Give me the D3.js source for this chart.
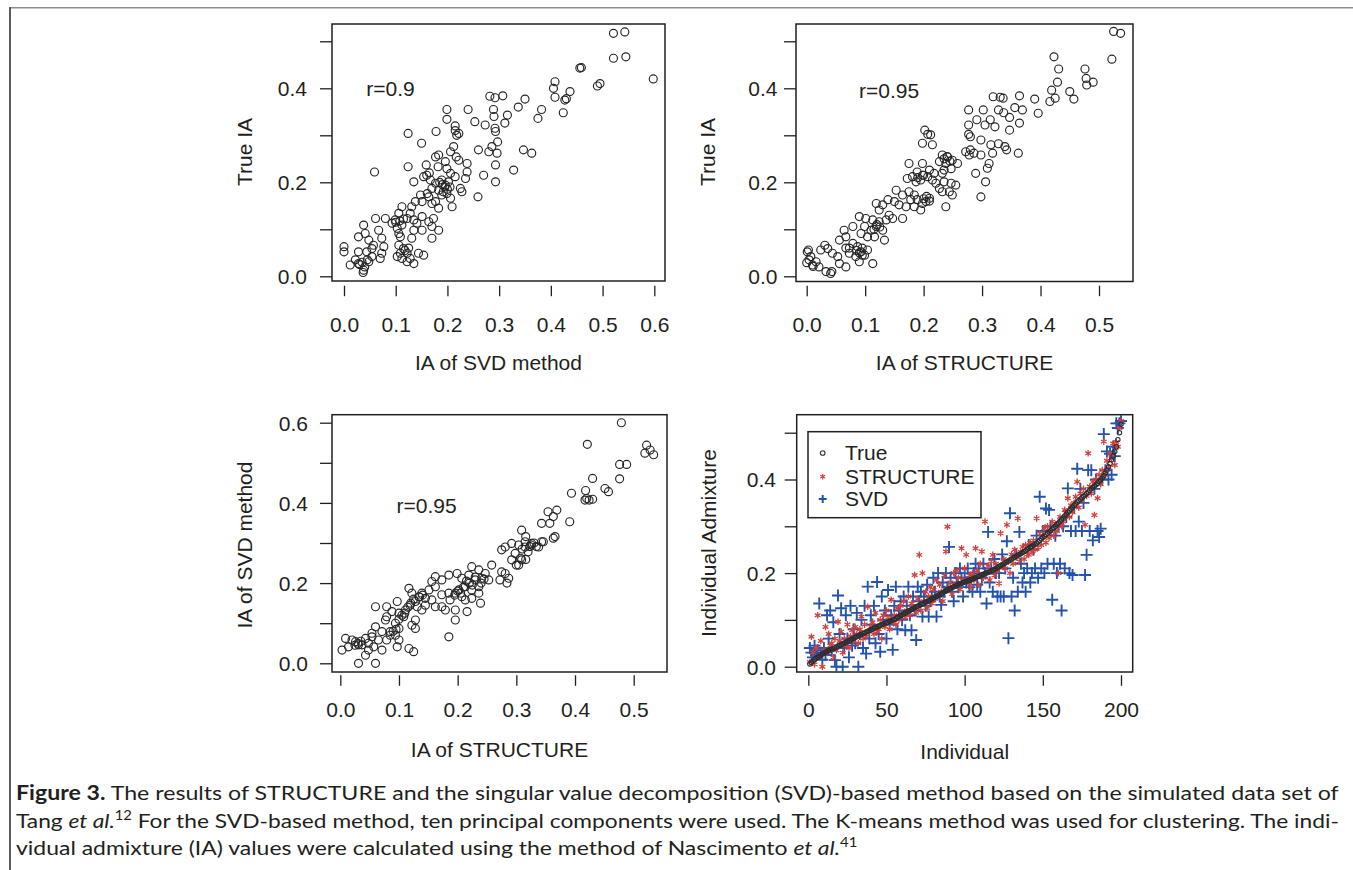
<!DOCTYPE html>
<html><head><meta charset="utf-8">
<script src="https://cdn.jsdelivr.net/npm/d3@7"></script>
<style>html,body{margin:0;padding:0;background:#fff;}svg{display:block;}</style>
</head><body>
<svg id="chart" width="1353" height="870"></svg>
<script>
// ---------------- DATA ----------------
// Panel A: x = IA of SVD method, y = True IA
const svdVsTrue = [
[0.521,0.517],[0.543,0.520],[0.521,0.464],[0.545,0.467],[0.598,0.420],[0.456,0.443],[0.459,0.444],[0.495,0.410],[0.490,0.405],[0.408,0.414],[0.405,0.400],[0.408,0.381],[0.427,0.375],[0.430,0.378],[0.437,0.393],[0.424,0.348],[0.382,0.355],[0.375,0.336],[0.350,0.377],[0.337,0.360],[0.316,0.343],[0.311,0.326],[0.307,0.384],[0.292,0.380],[0.282,0.383],[0.289,0.355],[0.290,0.340],[0.292,0.315],[0.273,0.322],[0.253,0.329],[0.240,0.355],[0.199,0.355],[0.199,0.334],[0.215,0.320],[0.347,0.269],[0.363,0.262],
[0.124,0.304],[0.178,0.308],[0.222,0.304],[0.218,0.300],[0.215,0.310],[0.293,0.308],[0.297,0.286],[0.150,0.283],[0.212,0.276],[0.206,0.265],[0.183,0.258],[0.177,0.254],[0.217,0.254],[0.196,0.244],[0.222,0.247],[0.238,0.240],[0.260,0.269],[0.280,0.265],[0.286,0.276],[0.296,0.262],[0.293,0.237],[0.328,0.226],
[0.059,0.222],[0.124,0.233],[0.159,0.237],[0.182,0.233],[0.199,0.229],[0.206,0.219],[0.215,0.212],[0.235,0.208],[0.238,0.222],[0.270,0.215],[0.293,0.201],[0.259,0.169],
[0.135,0.201],[0.154,0.212],[0.167,0.205],[0.177,0.198],[0.189,0.205],[0.196,0.194],[0.202,0.201],[0.183,0.183],[0.170,0.187],[0.161,0.176],[0.148,0.173],[0.164,0.169],[0.189,0.173],[0.199,0.176],[0.206,0.166],[0.209,0.148],[0.225,0.187],[0.228,0.180],[0.177,0.159],[0.170,0.155],[0.183,0.145],[0.151,0.159],[0.138,0.159],[0.131,0.148],[0.128,0.134],[0.112,0.148],[0.106,0.134],[0.122,0.123],[0.135,0.120],[0.141,0.113],[0.151,0.127],[0.173,0.123],[0.164,0.116],[0.170,0.106],[0.183,0.098],[0.170,0.081],[0.151,0.098],[0.135,0.098],[0.131,0.081],
[0.061,0.123],[0.080,0.123],[0.099,0.120],[0.093,0.113],[0.103,0.102],[0.112,0.109],[0.106,0.091],[0.109,0.084],
[0.038,0.109],[0.028,0.084],[0.041,0.091],[0.048,0.077],[0.067,0.098],[0.073,0.081],[0.077,0.063],[0.057,0.066],[0.054,0.059],[0.044,0.052],[0.028,0.052],[0.000,0.063],[0.000,0.052],[0.012,0.024],[0.022,0.035],[0.028,0.027],[0.038,0.013],[0.048,0.031],[0.054,0.042],[0.070,0.038],[0.073,0.049],
[0.106,0.066],[0.109,0.049],[0.115,0.059],[0.122,0.049],[0.128,0.038],[0.135,0.027],[0.144,0.049],[0.154,0.045],[0.103,0.042],[0.112,0.038],[0.122,0.031],
[0.190,0.195],[0.195,0.190],[0.200,0.185],[0.185,0.200],[0.192,0.180],[0.205,0.190],[0.108,0.118],[0.115,0.122],[0.100,0.115],[0.030,0.025],[0.035,0.030],[0.040,0.020],[0.045,0.035],[0.160,0.215],[0.165,0.220],[0.118,0.055],[0.125,0.060],[0.037,0.008]
];

// Panel B: x = IA of STRUCTURE, y = True IA
const structVsTrue = [
[0.525,0.521],[0.537,0.517],[0.522,0.462],[0.423,0.467],[0.431,0.441],[0.429,0.413],[0.419,0.396],[0.416,0.372],[0.425,0.379],[0.476,0.441],[0.478,0.421],[0.479,0.407],[0.490,0.413],[0.450,0.393],[0.457,0.377],[0.390,0.377],[0.396,0.347],[0.364,0.384],[0.356,0.359],[0.369,0.354],[0.364,0.326],[0.362,0.262],[0.347,0.338],[0.337,0.348],[0.347,0.311],[0.319,0.382],[0.331,0.381],[0.336,0.379],[0.328,0.354],[0.322,0.318],[0.314,0.333],[0.305,0.322],[0.302,0.354],[0.291,0.333],[0.277,0.354],[0.277,0.322],[0.328,0.282],[0.339,0.276],[0.342,0.269],[0.202,0.311],[0.318,0.262],
[0.207,0.302],[0.212,0.301],[0.198,0.283],[0.215,0.280],[0.277,0.302],[0.280,0.297],[0.298,0.290],[0.272,0.265],[0.280,0.269],[0.286,0.262],[0.298,0.258],[0.278,0.258],[0.315,0.280],[0.312,0.240],[0.309,0.230],[0.289,0.219],[0.306,0.201],[0.298,0.169],
[0.232,0.258],[0.241,0.254],[0.227,0.244],[0.238,0.240],[0.249,0.247],[0.258,0.240],[0.247,0.229],[0.235,0.226],[0.232,0.219],
[0.175,0.240],[0.198,0.240],[0.189,0.222],[0.198,0.215],[0.181,0.212],[0.172,0.208],[0.187,0.201],[0.207,0.212],[0.215,0.205],[0.221,0.198],[0.235,0.201],[0.247,0.198],[0.255,0.194],[0.227,0.187],[0.244,0.180],[0.249,0.173],[0.232,0.180],[0.218,0.219],[0.210,0.226],
[0.153,0.183],[0.164,0.173],[0.175,0.180],[0.184,0.173],[0.178,0.163],[0.189,0.163],[0.198,0.155],[0.204,0.159],[0.210,0.166],[0.195,0.141],[0.184,0.148],[0.170,0.148],[0.158,0.152],[0.150,0.159],[0.139,0.163],[0.119,0.155],[0.130,0.152],[0.124,0.141],[0.238,0.148],
[0.164,0.123],[0.090,0.127],[0.101,0.123],[0.113,0.120],[0.124,0.116],[0.136,0.120],[0.141,0.130],[0.119,0.106],[0.130,0.098],[0.110,0.098],[0.099,0.106],[0.093,0.091],[0.104,0.084],[0.116,0.084],[0.133,0.077],[0.147,0.123],
[0.064,0.098],[0.079,0.106],[0.067,0.084],[0.056,0.077],[0.079,0.070],[0.087,0.063],[0.093,0.052],[0.084,0.042],[0.099,0.045],[0.104,0.056],[0.113,0.027],[0.090,0.031],[0.073,0.049],[0.073,0.060],[0.067,0.060],
[0.031,0.066],[0.036,0.059],[0.024,0.056],[0.044,0.049],[0.053,0.042],[0.056,0.027],[0.067,0.020],[0.041,0.006],[0.033,0.010],[0.021,0.020],[0.010,0.024],[0.004,0.035],[0.001,0.052],[0.007,0.042],[0.016,0.031],
[0.235,0.250],[0.240,0.255],[0.245,0.245],[0.190,0.210],[0.195,0.205],[0.200,0.215],[0.205,0.170],[0.210,0.160],[0.200,0.165],[0.120,0.110],[0.125,0.105],[0.115,0.100],[0.090,0.050],[0.095,0.045],[0.085,0.055],[0.095,0.060],[0.003,0.056],[0.000,0.029],[0.011,0.021],[0.043,0.010]
];

// Panel C: x = IA of STRUCTURE, y = IA of SVD method
const structVsSvd = [
[0.479,0.600],[0.421,0.546],[0.522,0.544],[0.528,0.532],[0.519,0.524],[0.534,0.520],[0.476,0.496],[0.488,0.496],[0.476,0.460],[0.430,0.461],[0.451,0.436],[0.457,0.428],[0.394,0.424],[0.418,0.431],[0.420,0.411],[0.424,0.407],[0.430,0.409],[0.417,0.407],[0.391,0.353],[0.369,0.382],[0.354,0.378],[0.363,0.366],[0.357,0.349],[0.343,0.349],[0.366,0.316],[0.363,0.312],[0.309,0.332],[0.316,0.316],
[0.281,0.290],[0.292,0.299],[0.304,0.295],[0.315,0.303],[0.326,0.299],[0.338,0.290],[0.343,0.303],[0.298,0.274],[0.292,0.258],[0.307,0.262],[0.304,0.245],[0.275,0.283],[0.320,0.278],[0.309,0.258],[0.316,0.259],[0.300,0.245],[0.346,0.303],[0.334,0.291],[0.323,0.291],
[0.258,0.245],[0.275,0.228],[0.281,0.224],[0.287,0.212],[0.272,0.208],[0.284,0.200],
[0.224,0.241],[0.236,0.233],[0.247,0.224],[0.241,0.212],[0.253,0.208],[0.230,0.208],[0.219,0.220],[0.236,0.191],[0.224,0.183],[0.213,0.191],[0.202,0.183],[0.196,0.175],[0.207,0.166],[0.213,0.158],[0.224,0.162],[0.236,0.175],[0.239,0.150],[0.207,0.212],[0.199,0.224],[0.185,0.220],[0.173,0.208],[0.162,0.191],[0.185,0.175],[0.173,0.171],[0.187,0.158],[0.173,0.141],[0.179,0.133],[0.196,0.133],[0.196,0.108],[0.216,0.129],
[0.162,0.216],[0.156,0.204],[0.151,0.183],[0.139,0.175],[0.145,0.162],[0.134,0.166],[0.156,0.158],[0.162,0.141],[0.145,0.145],[0.139,0.133],[0.131,0.141],
[0.117,0.187],[0.122,0.175],[0.128,0.154],[0.119,0.145],[0.111,0.133],[0.100,0.125],[0.108,0.116],[0.088,0.129],[0.079,0.116],[0.077,0.108],[0.060,0.141],[0.079,0.141],[0.097,0.154],[0.128,0.108],[0.122,0.095],[0.128,0.087],
[0.094,0.100],[0.100,0.087],[0.085,0.079],[0.094,0.070],[0.079,0.058],[0.100,0.058],[0.071,0.079],[0.060,0.091],[0.054,0.066],[0.065,0.058],[0.057,0.041],[0.071,0.033],[0.048,0.033],[0.037,0.046],[0.043,0.020],[0.031,0.000],[0.060,0.000],[0.097,0.041],[0.117,0.037],[0.125,0.029],
[0.009,0.062],[0.020,0.058],[0.003,0.033],[0.014,0.041],[0.026,0.054],[0.031,0.046],[0.043,0.062],[0.054,0.075],[0.048,0.050],[0.185,0.066],
[0.200,0.180],[0.205,0.175],[0.210,0.190],[0.220,0.200],[0.225,0.195],[0.230,0.215],[0.215,0.205],[0.195,0.170],[0.240,0.200],[0.245,0.210],[0.105,0.120],[0.110,0.125],[0.115,0.140],[0.120,0.150],[0.100,0.110],[0.125,0.160],[0.135,0.165],[0.140,0.170],[0.090,0.080],[0.095,0.085],[0.085,0.070],[0.030,0.050],[0.035,0.055],[0.025,0.045],[0.310,0.285],[0.315,0.290],[0.325,0.295],[0.330,0.300]
];

// Panel D: individuals 1..200 sorted by true IA
const trueIA = [
0.006,0.009,0.012,0.015,0.018,0.020,0.022,0.025,0.027,0.029,
0.031,0.033,0.034,0.036,0.037,0.039,0.040,0.042,0.044,0.046,
0.047,0.049,0.050,0.052,0.054,0.055,0.057,0.059,0.061,0.063,
0.064,0.066,0.068,0.069,0.071,0.072,0.074,0.076,0.077,0.079,
0.080,0.082,0.084,0.085,0.087,0.088,0.090,0.091,0.093,0.094,
0.095,0.097,0.098,0.100,0.101,0.103,0.105,0.107,0.109,0.111,
0.113,0.115,0.117,0.119,0.120,0.122,0.124,0.126,0.128,0.129,
0.131,0.133,0.134,0.136,0.138,0.139,0.141,0.143,0.145,0.147,
0.149,0.150,0.152,0.154,0.156,0.158,0.160,0.162,0.164,0.166,
0.167,0.169,0.171,0.172,0.174,0.176,0.177,0.178,0.180,0.181,
0.182,0.183,0.185,0.186,0.187,0.189,0.190,0.192,0.193,0.194,
0.196,0.197,0.199,0.200,0.202,0.203,0.205,0.206,0.208,0.210,
0.212,0.214,0.216,0.218,0.220,0.222,0.224,0.226,0.228,0.230,
0.232,0.234,0.236,0.238,0.240,0.242,0.244,0.246,0.248,0.251,
0.253,0.255,0.257,0.260,0.262,0.264,0.267,0.270,0.273,0.276,
0.279,0.282,0.285,0.288,0.291,0.294,0.297,0.300,0.304,0.307,
0.311,0.314,0.318,0.322,0.326,0.330,0.333,0.337,0.341,0.345,
0.348,0.352,0.355,0.358,0.361,0.364,0.367,0.370,0.373,0.377,
0.380,0.383,0.386,0.389,0.392,0.396,0.399,0.403,0.408,0.414,
0.420,0.427,0.434,0.442,0.450,0.460,0.470,0.485,0.500,0.518
];
const structureIA = [
0.010,0.064,0.030,0.005,0.040,0.110,0.020,0.055,0.000,0.035,
0.085,0.030,0.070,0.045,0.050,0.020,0.060,0.035,0.096,0.055,
0.075,0.030,0.060,0.045,0.090,0.040,0.065,0.078,0.055,0.085,
0.070,0.050,0.080,0.107,0.060,0.090,0.065,0.128,0.075,0.085,
0.095,0.070,0.115,0.075,0.080,0.100,0.060,0.110,0.085,0.120,
0.105,0.080,0.143,0.095,0.110,0.090,0.125,0.100,0.130,0.115,
0.140,0.105,0.120,0.150,0.110,0.135,0.128,0.196,0.115,0.145,
0.239,0.120,0.200,0.140,0.160,0.125,0.150,0.170,0.135,0.165,
0.145,0.185,0.150,0.175,0.160,0.140,0.195,0.246,0.299,0.170,
0.180,0.155,0.200,0.175,0.206,0.190,0.165,0.253,0.185,0.210,
0.239,0.180,0.195,0.170,0.200,0.185,0.253,0.205,0.175,0.220,
0.246,0.190,0.310,0.200,0.215,0.185,0.225,0.239,0.195,0.220,
0.205,0.178,0.285,0.215,0.230,0.210,0.303,0.225,0.200,0.240,
0.220,0.250,0.235,0.317,0.225,0.245,0.256,0.230,0.260,0.240,
0.239,0.265,0.245,0.270,0.250,0.317,0.255,0.285,0.260,0.280,
0.296,0.265,0.300,0.275,0.290,0.310,0.280,0.305,0.290,0.200,
0.320,0.300,0.310,0.335,0.328,0.360,0.320,0.345,0.330,0.350,
0.363,0.395,0.340,0.370,0.355,0.380,0.303,0.365,0.456,0.385,
0.370,0.395,0.324,0.400,0.360,0.410,0.390,0.420,0.481,0.410,
0.440,0.425,0.455,0.445,0.477,0.431,0.480,0.470,0.510,0.525
];
const svdIA = [
0.040,0.030,0.020,0.045,0.025,0.035,0.135,0.030,0.015,0.040,
0.025,0.110,0.060,0.120,0.035,0.095,0.014,0.000,0.152,0.070,
0.125,0.000,0.040,0.110,0.060,0.020,0.130,0.045,0.080,0.050,
0.115,0.000,0.070,0.100,0.040,0.130,0.028,0.171,0.060,0.110,
0.090,0.130,0.050,0.181,0.070,0.032,0.150,0.100,0.120,0.060,
0.164,0.090,0.110,0.036,0.130,0.171,0.080,0.120,0.140,0.100,
0.150,0.078,0.130,0.171,0.110,0.078,0.150,0.120,0.057,0.171,
0.140,0.160,0.107,0.150,0.130,0.175,0.107,0.140,0.150,0.190,
0.160,0.107,0.200,0.150,0.132,0.180,0.160,0.200,0.170,0.256,
0.190,0.160,0.140,0.200,0.180,0.170,0.210,0.190,0.150,0.200,
0.180,0.210,0.170,0.190,0.160,0.200,0.220,0.175,0.210,0.160,
0.190,0.220,0.200,0.135,0.288,0.180,0.210,0.160,0.230,0.200,
0.150,0.200,0.150,0.240,0.150,0.210,0.268,0.061,0.328,0.150,
0.190,0.120,0.240,0.160,0.288,0.220,0.180,0.200,0.160,0.210,
0.260,0.180,0.200,0.250,0.210,0.280,0.190,0.363,0.210,0.290,
0.200,0.338,0.220,0.335,0.300,0.143,0.220,0.280,0.200,0.300,
0.220,0.120,0.300,0.210,0.320,0.381,0.200,0.290,0.196,0.340,
0.290,0.423,0.310,0.380,0.290,0.350,0.196,0.239,0.420,0.290,
0.420,0.270,0.380,0.400,0.290,0.277,0.295,0.400,0.497,0.420,
0.460,0.400,0.455,0.410,0.470,0.450,0.520,0.510,0.520,0.525
];

// Tick values / labels
const ticksIA07 = [0,0.1,0.2,0.3,0.4,0.5,0.6];
const ticksIA06 = [0,0.1,0.2,0.3,0.4,0.5];
const labelledY = [0,0.2,0.4,0.6];
const ticksIndividual = [0,50,100,150,200];
const legendLabels = ["True","STRUCTURE","SVD"];
const rLabels = ["r=0.9","r=0.95","r=0.95"];

// ---------------- DRAWING ----------------
const svg = d3.select("#chart");
const INK = "#231f20";
const FONT = "'Liberation Sans', Arial, Helvetica, sans-serif";
const FS = 21;
const RED = "#d2403c", BLUE = "#2453ad";

svg.append("line").attr("x1",9).attr("x2",1353).attr("y1",7.8).attr("y2",7.8)
  .attr("stroke","#8c8c8c").attr("stroke-width",1.6);
svg.append("line").attr("x1",10).attr("x2",10).attr("y1",7).attr("y2",870)
  .attr("stroke","#5c5c5c").attr("stroke-width",2);

function makePanel(c) {
  const g = svg.append("g");
  const x = d3.scaleLinear().domain(c.xDom).range(c.xRng);
  const y = d3.scaleLinear().domain(c.yDom).range(c.yRng);
  g.append("rect").attr("x",c.box[0]).attr("y",c.box[2])
    .attr("width",c.box[1]-c.box[0]).attr("height",c.box[3]-c.box[2])
    .attr("fill","none").attr("stroke",INK).attr("stroke-width",1.5);
  const ya = g.append("g").attr("transform",`translate(${c.box[0]},0)`)
    .call(d3.axisLeft(y).tickValues(c.yTicks).tickSize(12).tickSizeOuter(0)
      .tickFormat(d => labelledY.some(v => Math.abs(v-d)<1e-9) ? d3.format(".1f")(d) : ""));
  ya.select(".domain").remove();
  ya.selectAll("line").attr("stroke",INK).attr("stroke-width",1.3);
  ya.selectAll("text").attr("x", c.yLabRight - c.box[0]).attr("dy","0.35em")
    .attr("font-family",FONT).attr("font-size",FS).attr("fill",INK);
  const xa = g.append("g").attr("transform",`translate(0,${c.xTickTop})`)
    .call(d3.axisBottom(x).tickValues(c.xTicks).tickSize(10.5).tickSizeOuter(0)
      .tickFormat(c.xFmt));
  xa.select(".domain").remove();
  xa.selectAll("line").attr("stroke",INK).attr("stroke-width",1.3);
  xa.selectAll("text").attr("y", c.xLabMid - c.xTickTop).attr("dy","0.35em")
    .attr("font-family",FONT).attr("font-size",FS).attr("fill",INK);
  g.append("text").attr("x",(c.box[0]+c.box[1])/2).attr("y",c.xTitleY).attr("dy","0.35em")
    .attr("text-anchor","middle").attr("font-family",FONT).attr("font-size",FS).attr("fill",INK)
    .text(c.xTitle);
  g.append("text").attr("transform",`translate(${c.yTitleX},${c.yTitleY}) rotate(-90)`)
    .attr("dy","0.35em").attr("text-anchor","middle").attr("font-family",FONT)
    .attr("font-size",FS).attr("fill",INK).text(c.yTitle);
  return {g,x,y};
}

function scatter(p, data) {
  p.g.append("g").selectAll("circle").data(data).join("circle")
    .attr("cx", d => p.x(d[0])).attr("cy", d => p.y(d[1])).attr("r",4)
    .attr("fill","none").attr("stroke","#262626").attr("stroke-width",1.15);
}
function rText(p, xv, yv, s) {
  p.g.append("text").attr("x",p.x(xv)).attr("y",p.y(yv)).attr("dy","0.35em")
    .attr("text-anchor","middle").attr("font-family",FONT).attr("font-size",FS)
    .attr("fill",INK).text(s);
}
const f1 = d3.format(".1f");

const pA = makePanel({box:[332,665,24,281], xDom:[0,0.6], xRng:[344,654.3], yDom:[0,0.4], yRng:[276.3,88.3],
  xTicks:ticksIA07, yTicks:ticksIA06, xFmt:f1, yLabRight:307, xTickTop:285.7, xLabMid:325,
  xTitle:"IA of SVD method", xTitleY:363, yTitle:"True IA", yTitleX:245, yTitleY:152});
scatter(pA, svdVsTrue);
rText(pA, 0.09, 0.4, rLabels[0]);

const pB = makePanel({box:[796,1133,24,281.5], xDom:[0,0.5], xRng:[806.7,1099], yDom:[0,0.4], yRng:[276.3,88.3],
  xTicks:ticksIA06, yTicks:ticksIA06, xFmt:f1, yLabRight:777.5, xTickTop:285.7, xLabMid:324.5,
  xTitle:"IA of STRUCTURE", xTitleY:363, yTitle:"True IA", yTitleX:708, yTitleY:152});
scatter(pB, structVsTrue);
rText(pB, 0.141, 0.395, rLabels[1]);

const pC = makePanel({box:[332,667,414.7,672], xDom:[0,0.5], xRng:[340.3,633.7], yDom:[0,0.6], yRng:[663.3,422.7],
  xTicks:ticksIA06, yTicks:ticksIA07, xFmt:f1, yLabRight:308, xTickTop:675.3, xLabMid:710,
  xTitle:"IA of STRUCTURE", xTitleY:750, yTitle:"IA of SVD method", yTitleX:245, yTitleY:545});
scatter(pC, structVsSvd);
rText(pC, 0.147, 0.392, rLabels[2]);

const pD = makePanel({box:[796.7,1132.7,414.7,672], xDom:[0,200], xRng:[808.3,1121], yDom:[0,0.4], yRng:[666.7,479.5],
  xTicks:ticksIndividual, yTicks:ticksIA06, xFmt:d3.format("d"), yLabRight:776, xTickTop:675.3, xLabMid:710,
  xTitle:"Individual", xTitleY:751.5, yTitle:"Individual Admixture", yTitleX:708.3, yTitleY:543});

const individuals = d3.range(1, trueIA.length + 1);
const plusPath = s => `M${-s},0H${s}M0,${-s}V${s}`;
const c30 = Math.cos(Math.PI/6);
const starPath = r => `M0,${-r}V${r}M${-r*c30},${-r/2}L${r*c30},${r/2}M${-r*c30},${r/2}L${r*c30},${-r/2}`;

pD.g.append("g").selectAll("path").data(individuals).join("path")
  .attr("transform", i => `translate(${pD.x(i)},${pD.y(svdIA[i-1])})`)
  .attr("d", plusPath(6)).attr("fill","none").attr("stroke",BLUE).attr("stroke-width",1.9);
pD.g.append("g").selectAll("path").data(individuals).join("path")
  .attr("transform", i => `translate(${pD.x(i)},${pD.y(structureIA[i-1])})`)
  .attr("d", starPath(3.3)).attr("fill","none").attr("stroke",RED).attr("stroke-width",1.3);
pD.g.append("g").selectAll("circle").data(individuals).join("circle")
  .attr("cx", i => pD.x(i)).attr("cy", i => pD.y(trueIA[i-1])).attr("r",2.2)
  .attr("fill","none").attr("stroke","#2e2e2e").attr("stroke-width",1.1);

const lg = pD.g.append("g");
lg.append("rect").attr("x",808).attr("y",431.7).attr("width",173).attr("height",86)
  .attr("fill","#fff").attr("stroke",INK).attr("stroke-width",1.5);
const rowY = [453, 476.7, 499];
lg.append("circle").attr("cx",822.7).attr("cy",rowY[0]).attr("r",2.3).attr("fill","none").attr("stroke","#333").attr("stroke-width",1.1);
lg.append("path").attr("transform",`translate(822.7,${rowY[1]})`).attr("d",starPath(2.8)).attr("fill","none").attr("stroke",RED).attr("stroke-width",1.2);
lg.append("path").attr("transform",`translate(822.7,${rowY[2]})`).attr("d",plusPath(4)).attr("fill","none").attr("stroke",BLUE).attr("stroke-width",2);
legendLabels.forEach((t,i) => {
  lg.append("text").attr("x",845).attr("y",rowY[i]).attr("dy","0.35em")
    .attr("font-family",FONT).attr("font-size",FS).attr("fill",INK).text(t);
});

// ---------------- CAPTION ----------------
const CAPFONT = "Lato, 'Open Sans', 'DejaVu Sans', sans-serif";
const captionLines = [
  {y:800, justify:true, parts:[{t:"Figure 3.",b:1},{t:" The results of STRUCTURE and the singular value decomposition (SVD)-based method based on the simulated data set of"}]},
  {y:828, justify:true, parts:[{t:"Tang "},{t:"et al.",i:1},{t:"12",sup:1},{t:" For the SVD-based method, ten principal components were used. The K-means method was used for clustering. The indi-",down:1}]},
  {y:855, justify:false, parts:[{t:"vidual admixture (IA) values were calculated using the method of Nascimento "},{t:"et al.",i:1},{t:"41",sup:1}]}
];
const capLeft = 16, capRight = 1340;
const capNodes = captionLines.map(L => {
  const g = svg.append("g");
  const t = g.append("text").attr("x",0).attr("y",0)
    .attr("font-family",CAPFONT).attr("font-size",20).attr("fill",INK);
  L.parts.forEach(p => {
    const s = t.append("tspan").text(p.t);
    if (p.b) s.attr("font-weight",700);
    if (p.i) s.attr("font-style","italic");
    if (p.sup) s.attr("dy",-8).attr("font-size",13);
    if (p.down) s.attr("dy",8);
  });
  return {g, L, w: t.node().getComputedTextLength()};
});
const justScales = capNodes.filter(n => n.L.justify).map(n => (capRight - capLeft) / n.w);
const baseScale = d3.mean(justScales);
capNodes.forEach(n => {
  const s = n.L.justify ? (capRight - capLeft) / n.w : baseScale;
  n.g.attr("transform", `translate(${capLeft},${n.L.y}) scale(${s},1)`);
});
</script>
</body></html>
